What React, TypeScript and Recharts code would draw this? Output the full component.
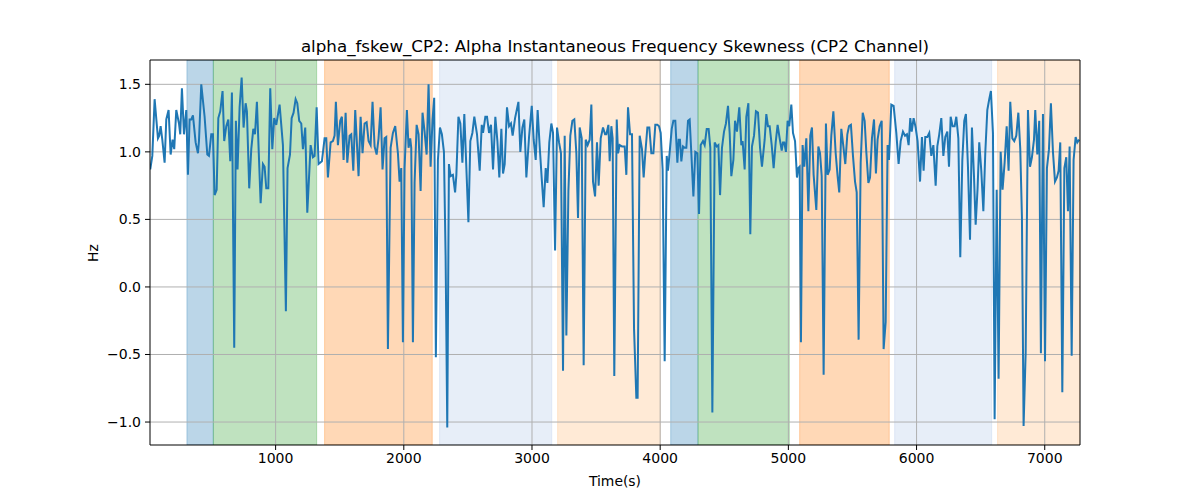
import { LineChart, Line, XAxis, YAxis, ReferenceArea, ReferenceLine } from 'recharts';

// Alpha instantaneous frequency skewness, CP2 channel: [time (s), Hz]
const segmentA: [number, number][] = [
  [22, 0.87], [38, 0.97], [56, 1.39], [82, 1.1], [92, 1.12], [103, 1.19], [116, 1.09], [134, 0.92],
  [147, 1.24], [165, 1.31], [181, 0.98], [196, 1.09], [209, 1.02], [225, 1.31], [246, 1.21], [256, 1.13],
  [269, 1.47], [285, 1.13], [303, 1.31], [316, 0.83], [329, 1.24], [342, 1.24], [355, 1.27], [376, 1.07],
  [394, 0.99], [402, 1.08], [420, 1.5], [446, 1.26], [467, 0.98], [480, 0.97], [498, 1.13], [511, 1.13],
  [524, 0.68], [540, 0.72], [553, 1.25], [568, 1.3], [586, 1.45], [599, 1.08], [615, 1.19], [631, 1.24],
  [646, 0.93], [659, 1.44], [677, -0.45], [690, 1.23], [703, 0.87], [719, 1.33], [735, 1.55], [750, 1.18],
  [766, 1.36], [776, 1.3], [794, 0.73], [810, 1.02], [826, 1.17], [839, 1.13], [854, 1.37], [883, 0.62],
  [901, 0.91], [914, 0.89], [927, 0.73], [943, 0.73], [958, 1.47], [974, 1.02], [989, 1.25], [1005, 1.2],
  [1031, 1.35], [1057, 1.05], [1080, -0.18], [1093, 0.88], [1112, 0.98], [1125, 1.25], [1140, 1.29],
  [1156, 1.39], [1169, 1.36], [1184, 1.23],
];

const segmentB: [number, number][] = [
  [1200, 1.21], [1213, 1.02], [1231, 1.18], [1247, 0.55], [1273, 1.05], [1291, 0.96], [1304, 0.97],
  [1320, 1.33], [1335, 0.91], [1361, 0.93], [1382, 1.1], [1395, 1.1], [1408, 0.81], [1429, 1.07],
  [1447, 1.08], [1460, 1.12], [1470, 1.37], [1486, 1.05], [1504, 1.23], [1517, 1.26], [1530, 0.94],
  [1546, 1.29], [1559, 0.92], [1577, 1.12], [1590, 1.13], [1606, 0.86], [1621, 1.31], [1647, 0.82],
  [1663, 1.26], [1678, 0.99], [1694, 1.21], [1710, 1.22], [1725, 1.08], [1741, 1.05], [1756, 1.37],
  [1772, 1.04], [1788, 0.98], [1803, 1.1], [1819, 1.33], [1834, 0.87], [1850, 1.1], [1863, 1.11],
  [1876, -0.46], [1897, 1.03], [1915, 1.14], [1933, 1.19], [1954, 0.99], [1967, 0.78], [1980, 0.88],
  [1993, -0.41], [2006, 0.88], [2024, 1.31], [2037, 1.03], [2050, 1.1], [2058, 1.03], [2071, -0.41],
  [2084, 0.77], [2100, 1.2], [2115, 1.13], [2131, 0.71], [2146, 1.29], [2162, 1.15], [2178, 0.98],
  [2193, 1.5], [2209, 0.89], [2224, 1.24], [2237, 1.4], [2250, -0.52], [2266, 0.94], [2282, 1.18],
  [2297, 1.13], [2313, 1.0], [2326, 0.23], [2339, -1.04], [2352, 0.91], [2365, 0.82], [2383, 0.83],
];

const segmentC: [number, number][] = [
  [2400, 0.7], [2410, 0.83], [2426, 1.26], [2441, 1.21], [2457, 0.92], [2472, 1.28], [2504, 0.48],
  [2519, 1.08], [2535, 1.14], [2550, 1.26], [2571, 1.13], [2592, 0.86], [2608, 1.2], [2618, 1.14],
  [2636, 1.26], [2649, 1.26], [2665, 1.14], [2680, 1.2], [2696, 0.87], [2714, 1.26], [2730, 1.08],
  [2745, 0.81], [2761, 1.17], [2774, 0.84], [2787, 0.91], [2805, 1.33], [2821, 1.19], [2836, 1.21],
  [2849, 1.12], [2868, 1.25], [2894, 1.37], [2909, 1.0], [2925, 1.18], [2940, 1.24], [2956, 0.81],
  [2977, 1.11], [2998, 1.34], [3013, 1.09], [3029, 0.94], [3044, 1.31], [3060, 1.04], [3076, 0.8],
  [3091, 0.59], [3107, 0.88], [3120, 0.77], [3135, 1.07], [3151, 1.21], [3164, 1.14], [3180, 0.27],
  [3195, 1.18], [3211, 1.07], [3226, 0.99], [3242, -0.62], [3255, 1.12], [3268, -0.36], [3284, 0.71],
  [3299, 1.12], [3315, 1.23], [3330, 1.24], [3346, 0.99], [3359, 0.51], [3372, 1.18], [3388, 1.1],
  [3403, -0.58], [3419, 1.09], [3434, 1.05], [3450, 1.09], [3463, 1.35], [3476, 0.78], [3492, 0.67],
  [3507, 1.07], [3520, 0.75], [3536, 1.1], [3554, 1.18], [3570, 1.13], [3580, 1.13], [3596, 1.2],
];

const segmentD: [number, number][] = [
  [3606, 0.93], [3619, 1.19], [3629, 1.1], [3642, -0.66], [3661, 1.24], [3671, 0.99], [3684, 1.05],
  [3702, 1.04], [3723, 1.04], [3736, 0.83], [3749, 1.33], [3765, 1.13], [3780, 1.13], [3796, -0.31],
  [3814, -0.82], [3824, -0.82], [3840, 1.12], [3858, 1.02], [3871, 0.81], [3884, 0.99], [3900, 1.18],
  [3915, 1.18], [3931, 0.99], [3947, 0.99], [3962, 1.2], [3978, 1.2], [3991, 1.19], [4004, 1.14],
  [4019, 0.87], [4035, -0.55], [4051, 0.97], [4061, 0.86], [4077, 1.03], [4090, 1.17], [4103, 1.23],
  [4118, 1.23], [4134, 0.92], [4144, 1.09], [4154, 1.09], [4165, 0.93], [4178, 1.04], [4191, 1.03],
  [4204, 1.03], [4217, 1.23], [4230, 1.24], [4243, 0.99], [4259, 0.67], [4274, 1.0], [4290, 0.99],
  [4303, 0.54], [4316, 1.05], [4334, 1.08], [4347, 1.05], [4363, 1.17], [4378, 1.17], [4391, 1.03],
  [4407, -0.93], [4425, 1.07], [4441, 1.04], [4454, 1.05], [4467, 0.68], [4482, 1.03], [4498, 1.15],
  [4513, 1.21], [4529, 1.34], [4542, 1.14], [4555, 0.82], [4571, 0.94], [4584, 1.23], [4599, 1.15],
  [4617, 1.33], [4633, 1.05], [4643, 1.08], [4659, 0.87], [4672, 1.26], [4688, 1.36], [4703, 0.39],
  [4716, 1.04], [4732, 1.12], [4747, 1.3], [4763, 1.29], [4779, 1.03], [4794, 0.89],
];

const segmentE: [number, number][] = [
  [4815, 1.09], [4828, 1.28], [4841, 1.19], [4854, 1.19], [4870, 1.05], [4885, 0.88], [4901, 1.07],
  [4916, 1.2], [4932, 1.1], [4948, 1.01], [4958, 1.07], [4968, 1.07], [4981, 1.0], [4994, 1.23],
  [5007, 1.19], [5023, 1.35], [5036, 1.14], [5052, 1.08], [5067, 0.81], [5078, 0.88], [5088, 0.89],
  [5098, -0.41], [5111, 1.05], [5124, 0.89], [5140, 1.1], [5156, 0.56], [5171, 1.12], [5184, 1.18],
  [5197, 0.83], [5218, 0.57], [5234, 1.04], [5247, 0.99], [5260, 0.82], [5275, -0.65], [5293, 1.21],
  [5306, 0.83], [5322, 0.87], [5335, 1.12], [5351, 1.3], [5369, 0.99], [5384, 0.82], [5397, 0.7],
  [5413, 1.17], [5429, 1.04], [5444, 0.91], [5460, 1.13], [5473, 1.19], [5488, 1.2], [5504, 0.97],
  [5520, 0.78], [5533, 0.7], [5548, -0.39], [5564, 0.92], [5580, 1.29], [5595, 1.23], [5608, 1.0],
  [5624, 0.77], [5637, 0.81], [5652, 1.1], [5668, 1.24], [5683, 0.84], [5696, 1.09], [5712, 1.19],
  [5728, 1.23], [5743, -0.46], [5759, -0.26], [5774, 1.05], [5785, 0.94], [5803, 1.35], [5821, 1.34],
  [5842, 1.14], [5860, 0.91], [5876, 1.08], [5894, 1.15], [5910, 1.12], [5925, 1.13], [5938, 1.05],
  [5951, 1.25], [5962, 1.15], [5977, 1.25], [5993, 1.18], [6008, 1.08],
];

const segmentF: [number, number][] = [
  [6027, 0.78], [6042, 1.11], [6055, 0.86], [6068, 1.11], [6084, 1.11], [6099, 1.14], [6115, 0.97],
  [6131, 1.05], [6149, 0.75], [6162, 1.04], [6177, 1.13], [6193, 1.25], [6209, 0.97], [6224, 1.11],
  [6240, 1.15], [6253, 0.89], [6266, 1.26], [6281, 1.19], [6297, 1.19], [6310, 1.26], [6326, 1.1],
  [6341, 0.22], [6357, 0.94], [6372, 1.23], [6385, 1.28], [6401, 0.89], [6417, 0.35], [6432, 1.18],
  [6448, 0.82], [6461, 0.46], [6476, 0.73], [6489, 1.07], [6505, 0.86], [6521, 0.56], [6536, 0.99],
  [6552, 1.31], [6567, 1.39], [6580, 1.45], [6596, 1.14], [6609, -0.98], [6625, 0.72], [6640, -0.68],
  [6656, 1.0], [6671, 0.72], [6687, 0.92], [6703, 1.19], [6718, 0.86], [6731, 1.37], [6747, 1.1],
  [6762, 1.08], [6778, 1.12], [6794, 1.29], [6809, 1.02], [6822, 0.52], [6835, -1.03], [6851, -0.49],
  [6869, 1.31], [6885, 0.89], [6900, 0.96], [6916, 1.09], [6926, 1.31], [6942, 0.98], [6957, 1.23],
  [6970, -0.49], [6986, 1.28], [7002, -0.55], [7017, 0.88], [7033, 1.02], [7048, 1.36], [7064, 1.0],
  [7080, 0.78], [7095, 0.81], [7108, 0.86], [7121, 1.07], [7137, -0.78], [7153, 0.88], [7168, 0.96],
  [7181, 0.56], [7194, 1.04], [7210, -0.51], [7225, 0.94], [7241, 1.11], [7254, 1.07], [7269, 1.09],
];

// shaded epochs
const epochStarts = [308, 514, 1382, 2279, 3200, 4082, 4295, 5088, 5829, 6632];
const epochEnds = [514, 1320, 2222, 3154, 4001, 4295, 5007, 5787, 6586, 7275];
const epochKinds = [0, 1, 2, 3, 4, 0, 1, 2, 3, 4];

const xDomain: [number, number] = [20, 7275];
const yDomain: [number, number] = [-1.17, 1.68];
const xTicks = [1000, 2000, 3000, 4000, 5000, 6000, 7000];
const yTicks = [-1.0, -0.5, 0.0, 0.5, 1.0, 1.5];

const title = 'alpha_fskew_CP2: Alpha Instantaneous Frequency Skewness (CP2 Channel)';
const xLabel = 'Time(s)';
const yLabel = 'Hz';

const EPOCH_COLORS = ['#1f77b4', '#2ca02c', '#ff7f0e', '#aec7e8', '#ffbb78'];
const FONT = '"DejaVu Sans", sans-serif';

const data = [...segmentA, ...segmentB, ...segmentC, ...segmentD, ...segmentE, ...segmentF].map(
  ([t, v]) => ({ t, v })
);

const fmtY = (v: number) => v.toFixed(1).replace('-', '\u2212');

export default function App() {
  const tickStyle = { fontSize: 14, fill: '#000', fontFamily: FONT };
  return (
    <div style={{ position: 'absolute', left: 0, top: 0, width: 1200, height: 500, background: '#fff' }}>
      <LineChart width={1200} height={500} data={data} margin={{ top: 60, right: 120, bottom: 0, left: 0 }}>
        <XAxis
          dataKey="t"
          type="number"
          domain={xDomain}
          ticks={xTicks}
          allowDataOverflow
          height={55}
          tick={tickStyle}
          tickSize={5}
          tickMargin={3}
          stroke="#000"
          axisLine={{ stroke: '#000' }}
          tickLine={{ stroke: '#000' }}
        />
        <YAxis
          type="number"
          domain={yDomain}
          ticks={yTicks}
          allowDataOverflow
          width={150}
          tick={tickStyle}
          tickFormatter={fmtY}
          tickSize={5}
          tickMargin={4}
          axisLine={{ stroke: '#000' }}
          tickLine={{ stroke: '#000' }}
        />
        {epochStarts.map((s, i) => (
          <ReferenceArea
            key={`ep${i}`}
            x1={s}
            x2={epochEnds[i]}
            y1={yDomain[0]}
            y2={yDomain[1]}
            ifOverflow="hidden"
            fill={EPOCH_COLORS[epochKinds[i]]}
            fillOpacity={0.3}
            stroke={EPOCH_COLORS[epochKinds[i]]}
            strokeOpacity={0.3}
            strokeWidth={1}
            zIndex={50}
          />
        ))}
        {xTicks.map((x) => (
          <ReferenceLine key={`gx${x}`} x={x} stroke="#b0b0b0" strokeWidth={1} zIndex={60} />
        ))}
        {yTicks.map((y) => (
          <ReferenceLine key={`gy${y}`} y={y} stroke="#b0b0b0" strokeWidth={1} zIndex={60} />
        ))}
        <Line
          type="linear"
          dataKey="v"
          stroke="#1f77b4"
          strokeWidth={2}
          dot={false}
          activeDot={false}
          isAnimationActive={false}
          zIndex={400}
        />
        <ReferenceLine x={xDomain[1]} stroke="#000" ifOverflow="visible" zIndex={500} />
        <ReferenceLine y={yDomain[1]} stroke="#000" ifOverflow="visible" zIndex={500} />
      </LineChart>
      <svg
        width={1200}
        height={500}
        style={{ position: 'absolute', left: 0, top: 0, pointerEvents: 'none' }}
        fontFamily={FONT}
      >
        <text x={615} y={46} textAnchor="middle" dominantBaseline="central" fontSize={16.7}>
          {title}
        </text>
        <text x={615} y={481} textAnchor="middle" dominantBaseline="central" fontSize={13.9}>
          {xLabel}
        </text>
        <text
          x={93}
          y={253}
          textAnchor="middle"
          dominantBaseline="central"
          fontSize={13.9}
          transform="rotate(-90 93 253)"
        >
          {yLabel}
        </text>
      </svg>
    </div>
  );
}
